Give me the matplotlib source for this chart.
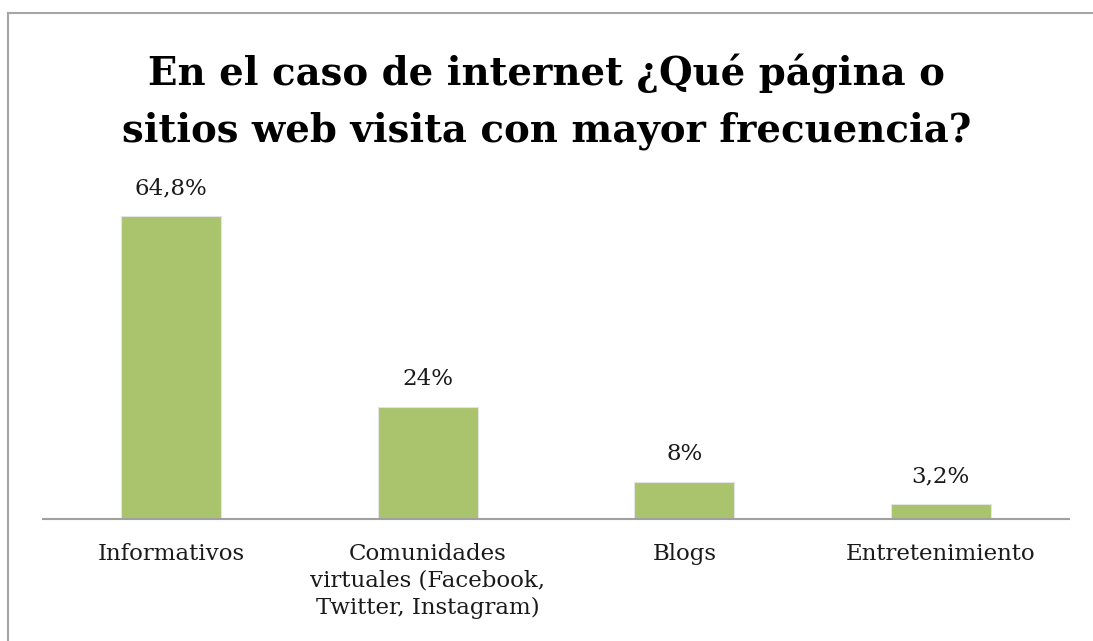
import matplotlib.pyplot as plt
import numpy as np

categorias = ["Informativos",
              "Comunidades\nvirtuales (Facebook,\nTwitter, Instagram)",
              "Blogs",
              "Entretenimiento"]
valores = [64.8, 24, 8, 3.2]
etiquetas = ["64,8%", "24%", "8%", "3,2%"]

titulo = "En el caso de internet ¿Qué página o\nsitios web visita con mayor frecuencia?"

plt.rcParams['font.family'] = ['DejaVu Serif']

fig = plt.figure(figsize=(10.93, 6.41), dpi=100)
# marco gris del grafico (solo se ve arriba y a la izquierda)
fig.add_artist(plt.Line2D([8/1093, 8/1093], [0, 1 - 13/641], color='#a6a6a6', lw=1.5))
fig.add_artist(plt.Line2D([8/1093, 1], [1 - 13/641, 1 - 13/641], color='#a6a6a6', lw=1.5))

ax = fig.add_axes([43/1093, 122/641, 1026/1093, 327/641])
x = np.arange(len(categorias))
ax.bar(x, valores, width=0.39, color='#a9c46c', edgecolor='#e4e4e4', linewidth=0.8, zorder=2)

for xi, v, t in zip(x, valores, etiquetas):
    ax.annotate(t, (xi, v), xytext=(0, 12), textcoords='offset points',
                ha='center', va='bottom', fontsize=16.5, color='#1a1a1a')

ax.set_xlim(-0.5, 3.5)
ax.set_ylim(0, 70)
ax.set_xticks(x)
ax.set_xticklabels(categorias, fontsize=16.5, color='#1a1a1a', linespacing=1.3)
ax.tick_params(axis='x', length=0, pad=17)
ax.set_yticks([])
for s in ['top', 'right', 'left']:
    ax.spines[s].set_visible(False)
ax.spines['bottom'].set_color('#a0a0a0')
ax.spines['bottom'].set_linewidth(1.5)

fig.text(0.5, 1 - 102/641, titulo, ha='center', va='center', fontsize=27.8,
         fontweight='bold', linespacing=1.6)

fig.savefig('out.png', dpi=100)
